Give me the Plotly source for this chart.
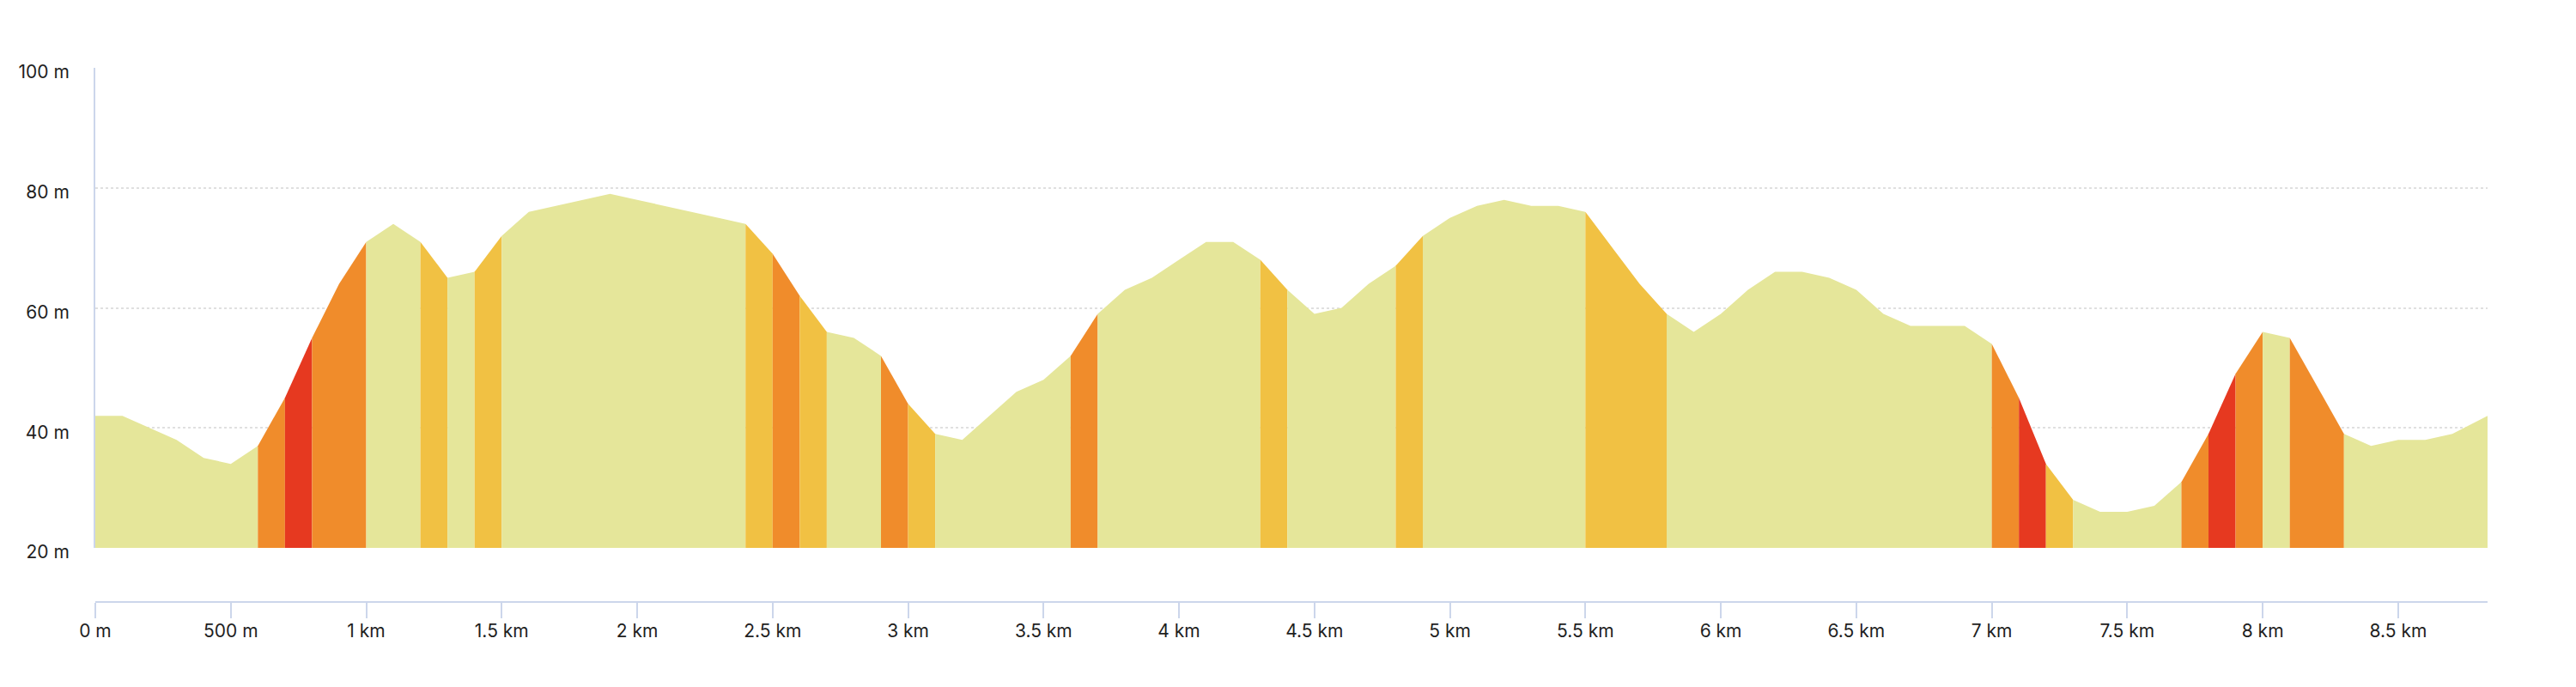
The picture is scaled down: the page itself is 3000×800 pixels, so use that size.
import plotly.graph_objects as go

# elevation profile, one sample every 100 m (last one at 8830 m)
distance_m = [0, 100, 200, 300, 400, 500, 600, 700, 800, 900,
              1000, 1100, 1200, 1300, 1400, 1500, 1600, 1700, 1800, 1900,
              2000, 2100, 2200, 2300, 2400, 2500, 2600, 2700, 2800, 2900,
              3000, 3100, 3200, 3300, 3400, 3500, 3600, 3700, 3800, 3900,
              4000, 4100, 4200, 4300, 4400, 4500, 4600, 4700, 4800, 4900,
              5000, 5100, 5200, 5300, 5400, 5500, 5600, 5700, 5800, 5900,
              6000, 6100, 6200, 6300, 6400, 6500, 6600, 6700, 6800, 6900,
              7000, 7100, 7200, 7300, 7400, 7500, 7600, 7700, 7800, 7900,
              8000, 8100, 8200, 8300, 8400, 8500, 8600, 8700, 8830]
elevation_m = [42, 42, 40, 38, 35, 34, 37, 45, 55, 64,
               71, 74, 71, 65, 66, 72, 76, 77, 78, 79,
               78, 77, 76, 75, 74, 69, 62, 56, 55, 52,
               44, 39, 38, 42, 46, 48, 52, 59, 63, 65,
               68, 71, 71, 68, 63, 59, 60, 64, 67, 72,
               75, 77, 78, 77, 77, 76, 70, 64, 59, 56,
               59, 63, 66, 66, 65, 63, 59, 57, 57, 57,
               54, 45, 34, 28, 26, 26, 27, 31, 39, 49,
               56, 55, 47, 39, 37, 38, 38, 39, 42]

# grade classes (percent, absolute) -> colour
grade_limits = [5, 7, 10]
grade_colors = ["#E5E69A", "#F1C143", "#F08C2B", "#E63920"]

y_ticks = [20, 40, 60, 80, 100]
x_ticks_m = [0, 500, 1000, 1500, 2000, 2500, 3000, 3500, 4000,
             4500, 5000, 5500, 6000, 6500, 7000, 7500, 8000, 8500]


def grade_class(g):
    g = abs(g)
    c = 0
    for lim in grade_limits:
        if g >= lim:
            c += 1
    return c


def fmt_dist(m):
    if m < 1000:
        return f"{m} m"
    return f"{m / 1000:g} km"


# class of every 100 m segment
seg_class = []
for i in range(len(distance_m) - 1):
    grade = (elevation_m[i + 1] - elevation_m[i]) / (distance_m[i + 1] - distance_m[i]) * 100
    seg_class.append(grade_class(grade))

# merge runs of the same class into one polygon
runs = []
start = 0
for i in range(1, len(seg_class) + 1):
    if i == len(seg_class) or seg_class[i] != seg_class[start]:
        runs.append((start, i, seg_class[start]))
        start = i

base = y_ticks[0]
fig = go.Figure()
for a, b, c in runs:
    xs = [distance_m[a] / 1000] + [distance_m[k] / 1000 for k in range(a, b + 1)] + [distance_m[b] / 1000]
    ys = [base] + elevation_m[a:b + 1] + [base]
    col = grade_colors[c]
    fig.add_trace(go.Scatter(
        x=xs, y=ys, mode="lines", fill="toself", fillcolor=col,
        line=dict(width=0, color=col), hoverinfo="skip"))

# page body has an 8 px margin
W, H = 2984, 784
ml, mr, mt, mb = 103, 95, 71, 91
plot_h = H - mt - mb
y_bottom = 63 / plot_h

fig.update_layout(
    width=W, height=H,
    margin=dict(l=ml, r=mr, t=mt, b=mb, autoexpand=False),
    plot_bgcolor="white", paper_bgcolor="white",
    showlegend=False,
    font=dict(family="Inter, Roboto, sans-serif", size=21, color="#1f1f1f"),
    xaxis=dict(
        range=[0, distance_m[-1] / 1000],
        anchor="free", position=0,
        showgrid=False, zeroline=False,
        showline=True, linecolor="#ccd6eb", linewidth=2,
        ticks="outside", ticklen=18, tickwidth=2, tickcolor="#ccd6eb",
        tickvals=[m / 1000 for m in x_ticks_m],
        ticktext=[fmt_dist(m) for m in x_ticks_m],
        ticklabelstandoff=-3,
    ),
    yaxis=dict(
        domain=[y_bottom, 1],
        range=[y_ticks[0], y_ticks[-1]],
        showgrid=True, gridcolor="#e0e0e0", griddash="dot", gridwidth=2,
        zeroline=False,
        showline=True, linecolor="#ccd6eb", linewidth=2,
        ticks="",
        tickvals=y_ticks,
        ticktext=[f"{v} m" for v in y_ticks],
        ticklabelstandoff=24,
        ticklabelshift=5,
    ),
)

fig.write_html("out.html")
